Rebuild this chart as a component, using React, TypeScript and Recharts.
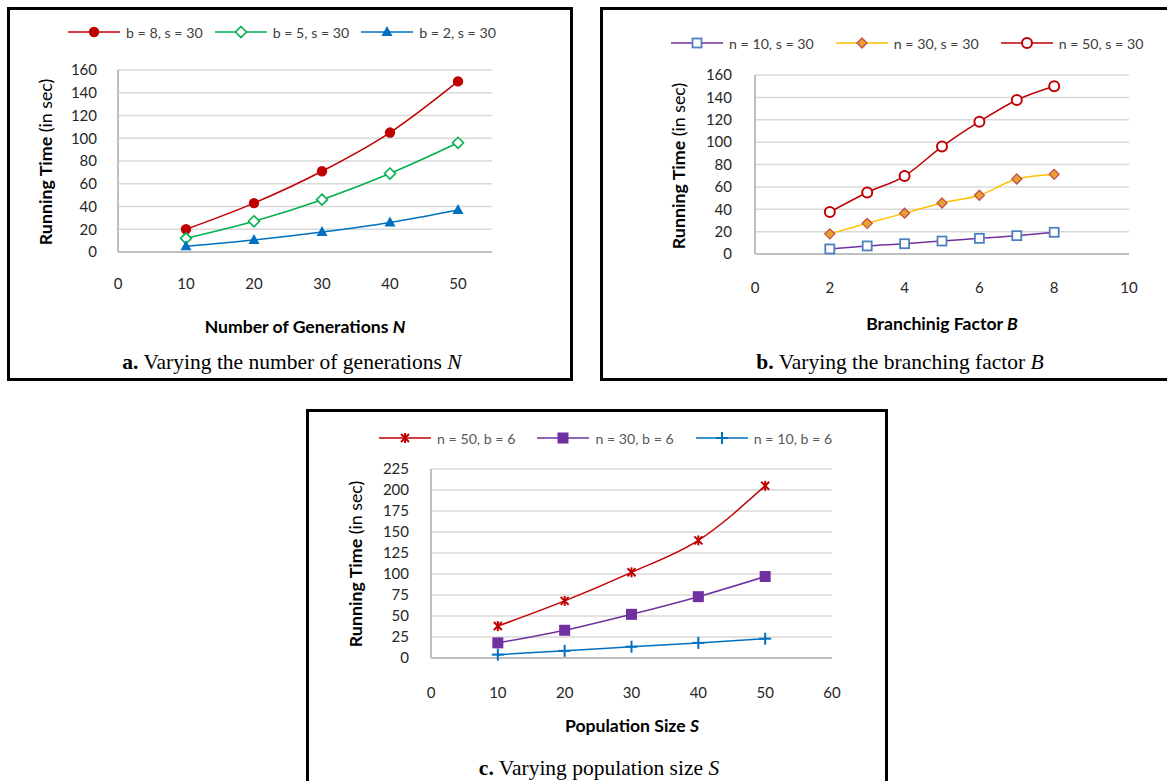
import React from 'react';
import { LineChart, Line, XAxis, YAxis, CartesianGrid } from 'recharts';

// ---- Panel a data ----
const genN = [10, 20, 30, 40, 50];
const aB8 = [20, 43, 71, 105, 150];
const aB5 = [12, 27, 46, 69, 96];
const aB2 = [5, 10.5, 17.5, 26, 37];
const aXTicks = [0, 10, 20, 30, 40, 50];
const aYTicks = [0, 20, 40, 60, 80, 100, 120, 140, 160];

// ---- Panel b data ----
const branchB = [2, 3, 4, 5, 6, 7, 8];
const bN10 = [4.5, 7.2, 9.2, 11.6, 14, 16.4, 19.4];
const bN30 = [18, 27.4, 36.5, 45.6, 52.5, 67, 71.2];
const bN50 = [37.5, 55, 69.7, 96, 118.3, 137.7, 150];
const bXTicks = [0, 2, 4, 6, 8, 10];
const bYTicks = [0, 20, 40, 60, 80, 100, 120, 140, 160];

// ---- Panel c data ----
const popS = [10, 20, 30, 40, 50];
const cN50 = [38, 68, 102, 140, 205];
const cN30 = [18, 33, 52, 73, 97];
const cN10 = [4, 8.5, 13.5, 18, 23];
const cXTicks = [0, 10, 20, 30, 40, 50, 60];
const cYTicks = [0, 25, 50, 75, 100, 125, 150, 175, 200, 225];

const dataA = genN.map((x, i) => ({ x, b8: aB8[i], b5: aB5[i], b2: aB2[i] }));
const dataB = branchB.map((x, i) => ({ x, n10: bN10[i], n30: bN30[i], n50: bN50[i] }));
const dataC = popS.map((x, i) => ({ x, n50: cN50[i], n30: cN30[i], n10: cN10[i] }));

const RED = '#C00000';
const GREEN = '#00B050';
const BLUE = '#0070C0';
const PURPLE = '#7030A0';
const GOLD = '#FFC000';

type Shape =
  | 'dotFilled'
  | 'diamondOpen'
  | 'triangle'
  | 'squareOpen'
  | 'diamondFilled'
  | 'circleOpen'
  | 'star'
  | 'squareFilled'
  | 'plus';

function MarkerShape({ shape, cx, cy }: { shape: Shape; cx: number; cy: number }) {
  switch (shape) {
    case 'dotFilled':
      return <circle cx={cx} cy={cy} r={5.2} fill={RED} />;
    case 'diamondOpen':
      return (
        <polygon
          points={`${cx},${cy - 5.5} ${cx + 5.5},${cy} ${cx},${cy + 5.5} ${cx - 5.5},${cy}`}
          fill="#fff"
          stroke={GREEN}
          strokeWidth={1.6}
        />
      );
    case 'triangle':
      return (
        <polygon
          points={`${cx},${cy - 6} ${cx + 5.5},${cy + 4} ${cx - 5.5},${cy + 4}`}
          fill={BLUE}
        />
      );
    case 'squareOpen':
      return (
        <rect x={cx - 4.5} y={cy - 4.5} width={9} height={9} fill="#fff" stroke="#4F81BD" strokeWidth={1.8} />
      );
    case 'diamondFilled':
      return (
        <polygon
          points={`${cx},${cy - 5} ${cx + 5},${cy} ${cx},${cy + 5} ${cx - 5},${cy}`}
          fill="#E8A12E"
          stroke="#C0504D"
          strokeWidth={1.3}
        />
      );
    case 'circleOpen':
      return <circle cx={cx} cy={cy} r={5} fill="#fff" stroke={RED} strokeWidth={2} />;
    case 'star':
      return (
        <g stroke={RED} strokeWidth={2}>
          <line x1={cx - 4} y1={cy - 4} x2={cx + 4} y2={cy + 4} />
          <line x1={cx - 4} y1={cy + 4} x2={cx + 4} y2={cy - 4} />
          <line x1={cx} y1={cy - 5} x2={cx} y2={cy + 5} />
        </g>
      );
    case 'squareFilled':
      return <rect x={cx - 5.5} y={cy - 5.5} width={11} height={11} fill={PURPLE} />;
    case 'plus':
      return (
        <g stroke={BLUE} strokeWidth={2}>
          <line x1={cx - 6} y1={cy} x2={cx + 6} y2={cy} />
          <line x1={cx} y1={cy - 6} x2={cx} y2={cy + 6} />
        </g>
      );
    default:
      return null;
  }
}

const mk = (shape: Shape) => (props: any) => {
  const { cx, cy, index } = props;
  if (cx == null || cy == null) return <g key={`e${index}`} />;
  return (
    <g key={`m${index}`}>
      <MarkerShape shape={shape} cx={cx} cy={cy} />
    </g>
  );
};

const tickStyle = { fontSize: 15, fill: '#262626', fontFamily: 'Lato' };
const axisLineStyle = { stroke: '#BFBFBF', strokeWidth: 2 };

function LegendRow({
  left,
  top,
  gap,
  color,
  items,
}: {
  left: number;
  top: number;
  gap: number;
  color: string;
  items: { label: string; stroke: string; shape: Shape }[];
}) {
  return (
    <div
      style={{
        position: 'absolute',
        left,
        top: top - 10,
        height: 20,
        display: 'flex',
        alignItems: 'center',
        fontFamily: 'Lato',
        fontSize: 14.2,
        color,
        whiteSpace: 'nowrap',
      }}
    >
      {items.map((it, i) => (
        <div key={i} style={{ display: 'flex', alignItems: 'center', marginLeft: i === 0 ? 0 : gap }}>
          <svg width={52} height={16} style={{ display: 'block' }}>
            <line x1={0} y1={8} x2={52} y2={8} stroke={it.stroke} strokeWidth={1.5} />
            <MarkerShape shape={it.shape} cx={26} cy={8} />
          </svg>
          <span style={{ marginLeft: 6 }}>{it.label}</span>
        </div>
      ))}
    </div>
  );
}

function YTitle({ cx, cy }: { cx: number; cy: number }) {
  return (
    <div
      style={{
        position: 'absolute',
        left: cx,
        top: cy,
        transform: 'translate(-50%, -50%) rotate(-90deg)',
        whiteSpace: 'nowrap',
        fontFamily: 'Lato',
        fontSize: 17.8,
        color: '#000',
      }}
    >
      <b>Running Time</b> (in sec)
    </div>
  );
}

function XTitle({ cx, cy, text, v }: { cx: number; cy: number; text: string; v: string }) {
  return (
    <div
      style={{
        position: 'absolute',
        left: cx,
        top: cy,
        transform: 'translate(-50%, -50%)',
        whiteSpace: 'nowrap',
        fontFamily: 'Lato',
        fontWeight: 'bold',
        fontSize: 17.6,
        color: '#000',
      }}
    >
      {text} <i>{v}</i>
    </div>
  );
}

function Caption({ cx, cy, lead, text, v }: { cx: number; cy: number; lead: string; text: string; v: string }) {
  return (
    <div
      style={{
        position: 'absolute',
        left: cx,
        top: cy,
        transform: 'translate(-50%, -50%)',
        whiteSpace: 'nowrap',
        fontFamily: '"Liberation Serif", "Times New Roman", serif',
        fontSize: 21.5,
        color: '#000',
      }}
    >
      <b>{lead}</b> {text} <i>{v}</i>
    </div>
  );
}

export default function App() {
  return (
    <div
      style={{
        position: 'absolute',
        left: 0,
        top: 0,
        width: 1167,
        height: 781,
        overflow: 'hidden',
        background: '#fff',
      }}
    >
      {/* panel borders */}
      <div style={{ position: 'absolute', left: 7, top: 7, width: 566, height: 374, border: '3px solid #000', boxSizing: 'border-box' }} />
      <div style={{ position: 'absolute', left: 600, top: 7, width: 600, height: 374, border: '3px solid #000', boxSizing: 'border-box' }} />
      <div style={{ position: 'absolute', left: 306, top: 409, width: 582, height: 420, border: '3px solid #000', boxSizing: 'border-box' }} />

      {/* Panel a */}
      <div style={{ position: 'absolute', left: 8, top: 8 }}>
        <LineChart width={563} height={372} data={dataA} margin={{ top: 62, right: 79, bottom: 98, left: 50 }}>
          <CartesianGrid vertical={false} stroke="#D9D9D9" strokeWidth={1.5} />
          <XAxis
            type="number"
            dataKey="x"
            domain={[0, 55]}
            ticks={aXTicks}
            interval={0}
            height={30}
            tickSize={0}
            tickMargin={26}
            tick={tickStyle}
            axisLine={axisLineStyle}
            tickLine={false}
            allowDataOverflow
          />
          <YAxis
            type="number"
            domain={[0, 160]}
            ticks={aYTicks}
            interval={0}
            width={60}
            tickSize={0}
            tickMargin={21}
            tick={tickStyle}
            axisLine={axisLineStyle}
            tickLine={false}
          />
          <Line type="monotone" dataKey="b8" stroke={RED} strokeWidth={1.5} dot={mk('dotFilled')} activeDot={false} isAnimationActive={false} />
          <Line type="monotone" dataKey="b5" stroke={GREEN} strokeWidth={1.5} dot={mk('diamondOpen')} activeDot={false} isAnimationActive={false} />
          <Line type="monotone" dataKey="b2" stroke={BLUE} strokeWidth={1.5} dot={mk('triangle')} activeDot={false} isAnimationActive={false} />
        </LineChart>
      </div>
      <LegendRow
        left={68}
        top={32}
        gap={12}
        color="#404040"
        items={[
          { label: 'b = 8, s = 30', stroke: RED, shape: 'dotFilled' },
          { label: 'b = 5, s = 30', stroke: GREEN, shape: 'diamondOpen' },
          { label: 'b = 2, s = 30', stroke: BLUE, shape: 'triangle' },
        ]}
      />
      <YTitle cx={45} cy={162} />
      <XTitle cx={305} cy={326} text="Number of Generations" v="N" />
      <Caption cx={292} cy={362} lead="a." text="Varying the number of generations" v="N" />

      {/* Panel b */}
      <div style={{ position: 'absolute', left: 602, top: 8 }}>
        <LineChart width={565} height={372} data={dataB} margin={{ top: 67, right: 38, bottom: 96, left: 93 }}>
          <CartesianGrid vertical={false} stroke="#D9D9D9" strokeWidth={1.5} />
          <XAxis
            type="number"
            dataKey="x"
            domain={[0, 10]}
            ticks={bXTicks}
            interval={0}
            height={30}
            tickSize={0}
            tickMargin={28}
            tick={tickStyle}
            axisLine={axisLineStyle}
            tickLine={false}
          />
          <YAxis
            type="number"
            domain={[0, 160]}
            ticks={bYTicks}
            interval={0}
            width={60}
            tickSize={0}
            tickMargin={23}
            tick={tickStyle}
            axisLine={axisLineStyle}
            tickLine={false}
          />
          <Line type="monotone" dataKey="n10" stroke={PURPLE} strokeWidth={1.5} dot={mk('squareOpen')} activeDot={false} isAnimationActive={false} />
          <Line type="monotone" dataKey="n30" stroke={GOLD} strokeWidth={1.5} dot={mk('diamondFilled')} activeDot={false} isAnimationActive={false} />
          <Line type="monotone" dataKey="n50" stroke={RED} strokeWidth={1.5} dot={mk('circleOpen')} activeDot={false} isAnimationActive={false} />
        </LineChart>
      </div>
      <LegendRow
        left={671}
        top={43}
        gap={22}
        color="#404040"
        items={[
          { label: 'n = 10, s = 30', stroke: PURPLE, shape: 'squareOpen' },
          { label: 'n = 30, s = 30', stroke: GOLD, shape: 'diamondFilled' },
          { label: 'n = 50, s = 30', stroke: RED, shape: 'circleOpen' },
        ]}
      />
      <YTitle cx={678} cy={166} />
      <XTitle cx={942} cy={323} text="Branchinig Factor" v="B" />
      <Caption cx={900} cy={362} lead="b." text="Varying the branching factor" v="B" />

      {/* Panel c */}
      <div style={{ position: 'absolute', left: 308, top: 410 }}>
        <LineChart width={578} height={371} data={dataC} margin={{ top: 59, right: 54, bottom: 93, left: 63 }}>
          <CartesianGrid vertical={false} stroke="#D9D9D9" strokeWidth={1.5} />
          <XAxis
            type="number"
            dataKey="x"
            domain={[0, 60]}
            ticks={cXTicks}
            interval={0}
            height={30}
            tickSize={0}
            tickMargin={29}
            tick={tickStyle}
            axisLine={axisLineStyle}
            tickLine={false}
          />
          <YAxis
            type="number"
            domain={[0, 225]}
            ticks={cYTicks}
            interval={0}
            width={60}
            tickSize={0}
            tickMargin={22}
            tick={tickStyle}
            axisLine={axisLineStyle}
            tickLine={false}
          />
          <Line type="monotone" dataKey="n50" stroke={RED} strokeWidth={1.5} dot={mk('star')} activeDot={false} isAnimationActive={false} />
          <Line type="monotone" dataKey="n30" stroke={PURPLE} strokeWidth={1.5} dot={mk('squareFilled')} activeDot={false} isAnimationActive={false} />
          <Line type="monotone" dataKey="n10" stroke={BLUE} strokeWidth={1.5} dot={mk('plus')} activeDot={false} isAnimationActive={false} />
        </LineChart>
      </div>
      <LegendRow
        left={379}
        top={438}
        gap={22}
        color="#595959"
        items={[
          { label: 'n = 50, b = 6', stroke: RED, shape: 'star' },
          { label: 'n = 30, b = 6', stroke: PURPLE, shape: 'squareFilled' },
          { label: 'n = 10, b = 6', stroke: BLUE, shape: 'plus' },
        ]}
      />
      <YTitle cx={355} cy={564} />
      <XTitle cx={632} cy={725} text="Population Size" v="S" />
      <Caption cx={599} cy={768} lead="c." text="Varying population size" v="S" />
    </div>
  );
}
